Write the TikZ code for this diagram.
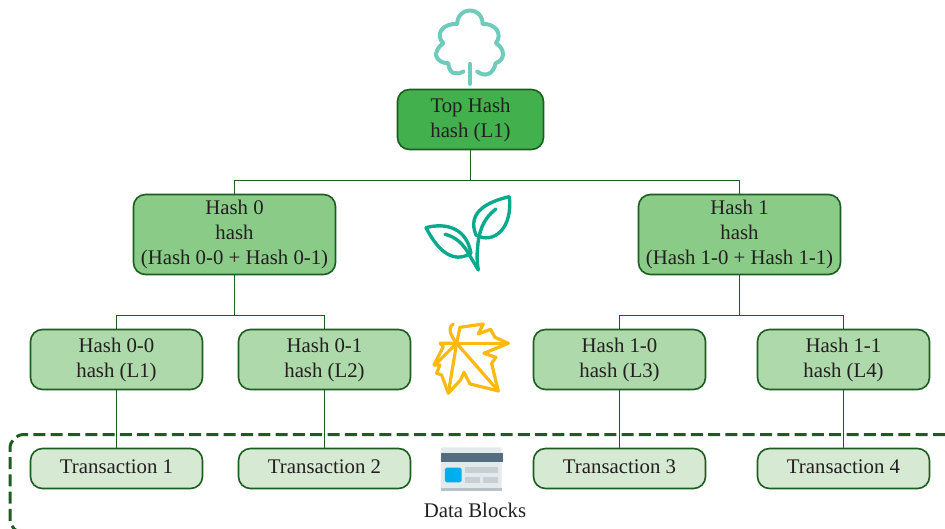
\documentclass[tikz,border=0pt]{standalone}
\usepackage{fontspec}
\setmainfont{Liberation Serif}
\definecolor{edgegreen}{HTML}{1B5E20}
\definecolor{topgreen}{HTML}{42B04C}
\definecolor{hashgreen}{HTML}{8ACB88}
\definecolor{leafgreen}{HTML}{AED9AB}
\definecolor{txgreen}{HTML}{D5E9D3}
\definecolor{treeteal}{HTML}{6FCBBB}
\definecolor{plantteal}{HTML}{0BAA8C}
\definecolor{maplegold}{HTML}{FDB913}
\definecolor{inkgray}{HTML}{231F20}
\definecolor{panelgray}{HTML}{E3EAEC}
\definecolor{headslate}{HTML}{546E7F}
\definecolor{linegray}{HTML}{C8CED1}
\definecolor{footgray}{HTML}{B8C2C6}
\definecolor{tileblue}{HTML}{00AEEF}
\tikzset{
	basebox/.style={draw=edgegreen,line width=1.6pt,rounded corners=12pt,align=center,inner sep=0pt,outer sep=0pt,text=inkgray,font=\fontsize{20.8}{25}\selectfont},
	topbox/.style={basebox,fill=topgreen,minimum width=146pt,minimum height=60pt},
	hashbox/.style={basebox,fill=hashgreen,minimum width=202pt,minimum height=80pt},
	leafbox/.style={basebox,fill=leafgreen,minimum width=172pt,minimum height=60pt},
	txbox/.style={basebox,fill=txgreen,minimum width=172pt,minimum height=40pt,text height=13.5pt,text depth=3.5pt},
	link/.style={draw=edgegreen,line width=1.2pt},
	icon/.style={line width=3.4pt,line cap=round,line join=round,fill=none}
}
\begin{document}
\begin{tikzpicture}[x=1pt,y=-1pt]
	\useasboundingbox (0,0) rectangle (945,528);
	\clip (0,0) rectangle (945,528);
	% dashed frame round the data blocks
	\draw [edgegreen,line width=3pt,dash pattern=on 12pt off 5.3pt,rounded corners=14pt] (945,434.5) -- (10,434.5) -- (10,533) -- (40,533);
	% hash tree
	\node[topbox] (top) at (470.5,119.5) {Top Hash\\hash (L1)};
	\node[hashbox] (hash0) at (234.5,234.5) {Hash 0\\hash\\(Hash 0-0 + Hash 0-1)};
	\node[hashbox] (hash1) at (739.5,234.5) {Hash 1\\hash\\(Hash 1-0 + Hash 1-1)};
	\node[leafbox] (hash00) at (116.5,359.5) {Hash 0-0\\hash (L1)};
	\node[leafbox] (hash01) at (324.5,359.5) {Hash 0-1\\hash (L2)};
	\node[leafbox] (hash10) at (619.5,359.5) {Hash 1-0\\hash (L3)};
	\node[leafbox] (hash11) at (843.5,359.5) {Hash 1-1\\hash (L4)};
	\node[txbox] (tx1) at (116.5,468.5) {Transaction 1};
	\node[txbox] (tx2) at (324.5,468.5) {Transaction 2};
	\node[txbox] (tx3) at (619.5,468.5) {Transaction 3};
	\node[txbox] (tx4) at (843.5,468.5) {Transaction 4};
	\node[text=inkgray,font=\fontsize{20.8}{25}\selectfont] (blocks) at (475,510.5) {Data Blocks};
	% connectors
	\coordinate (bustop) at (470.5,180.5);
	\coordinate (bus0) at (234.5,315.5);
	\coordinate (bus1) at (739.5,315.5);
	\draw[link] (top.south) -- (bustop);
	\draw[link] (bustop) -| (hash0.north);
	\draw[link] (bustop) -| (hash1.north);
	\draw[link] (hash0.south) -- (bus0);
	\draw[link] (bus0) -| (hash00.north);
	\draw[link] (bus0) -| (hash01.north);
	\draw[link] (hash1.south) -- (bus1);
	\draw[link] (bus1) -| (hash10.north);
	\draw[link] (bus1) -| (hash11.north);
	\draw[link] (hash00.south) -- (tx1.north);
	\draw[link] (hash01.south) -- (tx2.north);
	\draw[link] (hash10.south) -- (tx3.north);
	\draw[link] (hash11.south) -- (tx4.north);
	% tree
	\begin{scope}[shift={(400,0)},x=0.333pt,y=-0.333pt]
		\draw[icon,treeteal,line width=4pt] (190,215) .. controls (170,225) and (148,225) .. (145,190) .. controls (115,190) and (100,165) .. (112,150) .. controls (115,142) and (122,135) .. (130,130) .. controls (105,105) and (125,70) .. (172,72) .. controls (172,18) and (248,18) .. (248,72) .. controls (285,70) and (310,100) .. (288,130) .. controls (315,145) and (318,180) .. (287,190) .. controls (280,225) and (255,232) .. (232,215);
		\draw[icon,treeteal,line width=4pt] (210,192) -- (210,252);
	\end{scope}
	% plant
	\begin{scope}[shift={(410,185)},x=0.333pt,y=-0.333pt]
		\draw[icon,plantteal] (48,128) .. controls (110,112) and (170,130) .. (183,205) .. controls (125,240) and (80,190) .. (48,128);
		\draw[icon,plantteal] (105,148) .. controls (135,155) and (160,175) .. (178,210) -- (205,255);
		\draw[icon,plantteal] (298,35) .. controls (235,50) and (170,80) .. (198,150) .. controls (250,180) and (310,130) .. (298,35);
		\draw[icon,plantteal] (258,72) .. controls (215,105) and (205,150) .. (203,190) .. controls (200,215) and (202,235) .. (205,255);
	\end{scope}
	% maple
	\begin{scope}[shift={(420,310)},x=0.333pt,y=-0.333pt]
		\draw[icon,maplegold,line width=3.2pt] (110,100) -- (120,52) -- (190,42) -- (175,72) -- (212,58) -- (225,82) -- (265,100) -- (192,130) -- (228,142) -- (215,160) -- (235,243) -- (150,222) -- (132,187) -- (122,210) -- (85,250) -- (65,195) -- (50,190) -- (60,165) -- (42,165) -- (70,110) -- (60,100) -- cycle;
		\draw[icon,maplegold,line width=3.2pt] (110,100) -- (265,100);
		\draw[icon,maplegold,line width=3.2pt] (110,100) -- (235,243);
		\draw[icon,maplegold,line width=3.2pt] (110,100) -- (85,250);
		\draw[icon,maplegold,line width=3.2pt] (110,100) -- (45,165);
		\draw[icon,maplegold,line width=3.2pt] (110,100) .. controls (95,80) and (80,55) .. (100,42);
	\end{scope}
	% data block icon
	\begin{scope}[shift={(400,430)},x=0.333pt,y=-0.333pt]
		\fill[panelgray,rounded corners=1pt] (123,52) rectangle (305,182);
		\fill[footgray] (123,174) rectangle (305,182);
		\fill[headslate] (123,69) rectangle (309,96);
		\fill[tileblue,rounded corners=1.5pt] (135,113) rectangle (185,157);
		\fill[linegray] (195,111) rectangle (294,129);
		\fill[linegray] (195,141) rectangle (240,159);
		\fill[linegray] (249,141) rectangle (294,159);
	\end{scope}
\end{tikzpicture}
\end{document}
